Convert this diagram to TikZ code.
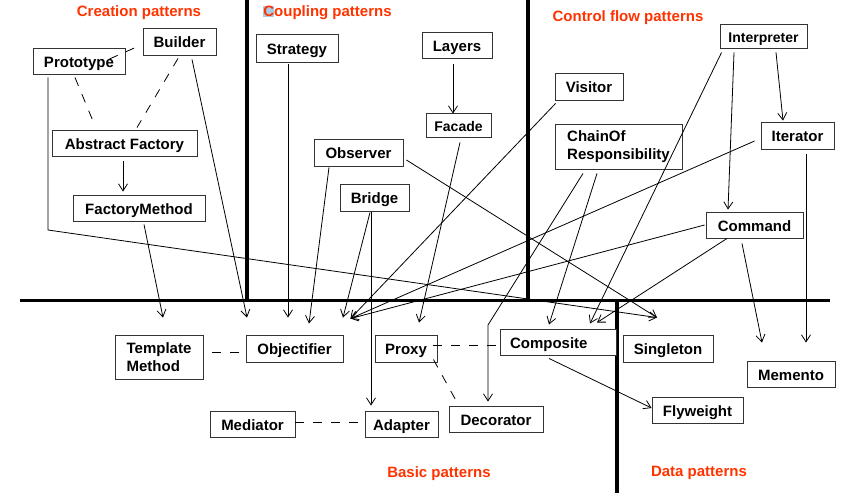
\documentclass[tikz,border=0pt]{standalone}
\usepackage{fontspec}
\setmainfont{Liberation Sans}
\usetikzlibrary{arrows.meta,calc}
\definecolor{lblred}{RGB}{255,51,0}
\definecolor{selblue}{RGB}{170,205,230}
\begin{document}
\begin{tikzpicture}[x=1pt,y=-1pt,
  box/.style={draw=black!80, line width=0.9pt, fill=white, inner sep=0pt,
    text height=12.7pt, text depth=0pt,
    font=\fontsize{15}{18.5}\selectfont\bfseries, text=black},
  sbox/.style={box, text height=12pt, font=\fontsize{14}{17}\selectfont\bfseries},
  mbox/.style={draw=black!80, line width=0.9pt, fill=white, inner sep=0pt, align=left,
    font=\fontsize{15}{18.5}\selectfont\bfseries, text=black},
  lbl/.style={text=lblred, inner sep=0pt, font=\fontsize{15}{18}\selectfont\bfseries},
  sepline/.style={line width=3.6pt, black},
  link/.style={line width=0.8pt, black},
  arr/.style={link, -{Straight Barb[length=7pt,width=9pt]}},
  dsh/.style={link, dash pattern=on 9pt off 9pt}]
\useasboundingbox (0,0) rectangle (867,493);

% separators
\draw[sepline] (20,300.5) -- (830,300.5);
\draw[sepline] (247,0) -- (247,300.5);
\draw[sepline] (528,0) -- (528,300.5);
\draw[sepline] (617,300.5) -- (617,493);

% group labels
\node[lbl] (lcreate) at (139,13) {Creation patterns};
\node[lbl] (lcouple) at (327.5,13) {{\setlength{\fboxsep}{0pt}\colorbox{selblue}{C}}oupling patterns};
\node[lbl] (lcontrol) at (628,18) {Control flow patterns};
\node[lbl] (lbasic) at (439,474) {Basic patterns};
\node[lbl] (ldata) at (699,473) {Data patterns};

% nodes
\node[box, minimum width=92pt, minimum height=26pt] (proto) at (79,61) {Prototype};
\node[box, minimum width=73pt, minimum height=27pt] (builder) at (179.5,41.5) {Builder};
\node[box, minimum width=145pt, minimum height=26pt] (absf) at (124.5,143) {Abstract Factory};
\node[box, minimum width=132pt, minimum height=26pt] (fmeth) at (139,208) {FactoryMethod};
\node[box, minimum width=82pt, minimum height=28pt] (strat) at (297,48) {Strategy};
\node[box, minimum width=70pt, minimum height=26pt] (layers) at (457,45) {Layers};
\node[sbox, minimum width=65pt, minimum height=24pt] (facade) at (458.5,125) {Facade};
\node[box, minimum width=89pt, minimum height=27pt] (observer) at (358.5,152.5) {Observer};
\node[box, minimum width=69pt, minimum height=27pt] (bridge) at (374.5,197.5) {Bridge};
\node[box, minimum width=68pt, minimum height=27pt] (visitor) at (589,86.5) {Visitor};
\node[mbox, minimum width=127pt, minimum height=45pt] (cor) at (618.5,146.5) {ChainOf\\Responsibility};
\node[sbox, minimum width=87pt, minimum height=24pt] (interp) at (763.5,36) {Interpreter};
\node[box, minimum width=73pt, minimum height=27pt] (iter) at (797.5,135.5) {Iterator};
\node[box, minimum width=97pt, minimum height=26pt] (command) at (754.5,225) {Command};
\node[mbox, minimum width=88pt, minimum height=44pt] (tmeth) at (159,357) {Template\\Method};
\node[box, minimum width=97pt, minimum height=27pt] (objf) at (294.5,348.5) {Objectifier};
\node[box, minimum width=62pt, minimum height=27pt] (proxy) at (406,348.5) {Proxy};
\node[box, minimum width=116pt, minimum height=26pt, text width=96pt, align=left] (composite) at (558,342) {Composite};
\node[box, minimum width=90pt, minimum height=27pt] (singleton) at (668,348.5) {Singleton};
\node[box, minimum width=88pt, minimum height=26pt] (memento) at (791,374) {Memento};
\node[box, minimum width=85pt, minimum height=26pt] (mediator) at (252.5,424) {Mediator};
\node[box, minimum width=73pt, minimum height=26pt] (adapter) at (401.5,424) {Adapter};
\node[box, minimum width=94pt, minimum height=26pt] (decorator) at (496,419) {Decorator};
\node[box, minimum width=91pt, minimum height=26pt] (flyweight) at (697.5,410) {Flyweight};

% bend points
\coordinate (protobend) at (48,230);
\coordinate (corbend) at (488,325);

% creation
\draw[dsh] ($(proto.east)+(-16,-2)$) -- ($(builder.west)+(-6,5.5)$);
\draw[dsh] ($(proto.south)+(-4,3)$) -- ($(absf.north)+(-30.5,-6)$);
\draw[dsh] ($(builder.south)+(-1.5,3)$) -- ($(absf.north)+(12.5,-2)$);
\draw[arr] ($(absf.south)+(-1.5,5)$) -- ($(fmeth.north)+(-16,-3)$);
\draw[arr] ($(fmeth.south)+(5,3)$) -- ($(tmeth.north)+(4,-17)$);
\draw[arr] ($(builder.south)+(12.5,4)$) -- ($(objf.north)+(-47.5,-17)$);
\draw[arr] ($(proto.south)+(-31,3)$) -- (protobend) -- ($(singleton.north)+(-11,-17)$);

% coupling
\draw[arr] ($(strat.south)+(-9,2)$) -- ($(objf.north)+(-6.5,-17)$);
\draw[arr] ($(observer.south)+(-29.5,1)$) -- ($(objf.north)+(14.5,-11)$);
\draw[arr] ($(observer.east)+(3,7.5)$) -- ($(singleton.north)+(-11,-17)$);
\draw[arr] ($(bridge.south)+(-4.5,1)$) -- ($(objf.north)+(48.5,-17)$);
\draw[arr] ($(bridge.south)+(-3.5,1)$) -- ($(adapter.north)+(-30.5,-5)$);
\draw[arr] ($(layers.south)+(-4,6)$) -- ($(facade.north)+(-5.5,1)$);
\draw[arr] ($(facade.south)+(1.5,5)$) -- ($(proxy.north)+(13,-12)$);

% control flow
\draw[arr] ($(visitor.south west)+(1,3)$) -- ($(objf.north east)+(7,-16)$);
\draw[arr] ($(iter.west)+(-6,5.5)$) -- ($(objf.north east)+(7,-16)$);
\draw[arr] ($(command.west)+(-1,0)$) -- ($(objf.north east)+(7,-16)$);
\draw[arr] ($(interp.south west)+(2,4)$) -- ($(composite.north)+(32,-5)$);
\draw[arr] ($(interp.south)+(-29.5,4)$) -- ($(command.north)+(-26.5,-2)$);
\draw[arr] ($(interp.south)+(12.5,4)$) -- ($(iter.north)+(-14.5,-1)$);
\draw[arr] ($(cor.south)+(-35.5,4)$) -- (corbend) -- ($(decorator.north)+(-8,-4)$);
\draw[arr] ($(cor.south)+(-21.5,4)$) -- ($(composite.north)+(-9,-4)$);
\draw[arr] ($(command.south)+(-27.5,0)$) -- ($(composite.north)+(39,-6)$);
\draw[arr] ($(command.south)+(-12.5,5)$) -- ($(memento.north)+(-29,-18)$);
\draw[arr] ($(iter.south)+(8.5,5)$) -- ($(memento.north)+(15,-18)$);

% basic / data
\draw[arr] ($(composite.south)+(-9,3)$) -- ($(flyweight.west)+(0,-2)$);
\draw[dsh] ($(tmeth.east)+(9,-5)$) -- ($(objf.west)+(-3,3.5)$);
\draw[dsh] ($(mediator.east)+(0,-2)$) -- ($(adapter.west)+(0,-2)$);
\draw[dsh] ($(proxy.east)+(-4,-3.5)$) -- ($(composite.west)+(0,3)$);
\draw[dsh] ($(proxy.south east)+(-4,-3)$) -- ($(decorator.north west)+(8,-4)$);
\end{tikzpicture}
\end{document}
